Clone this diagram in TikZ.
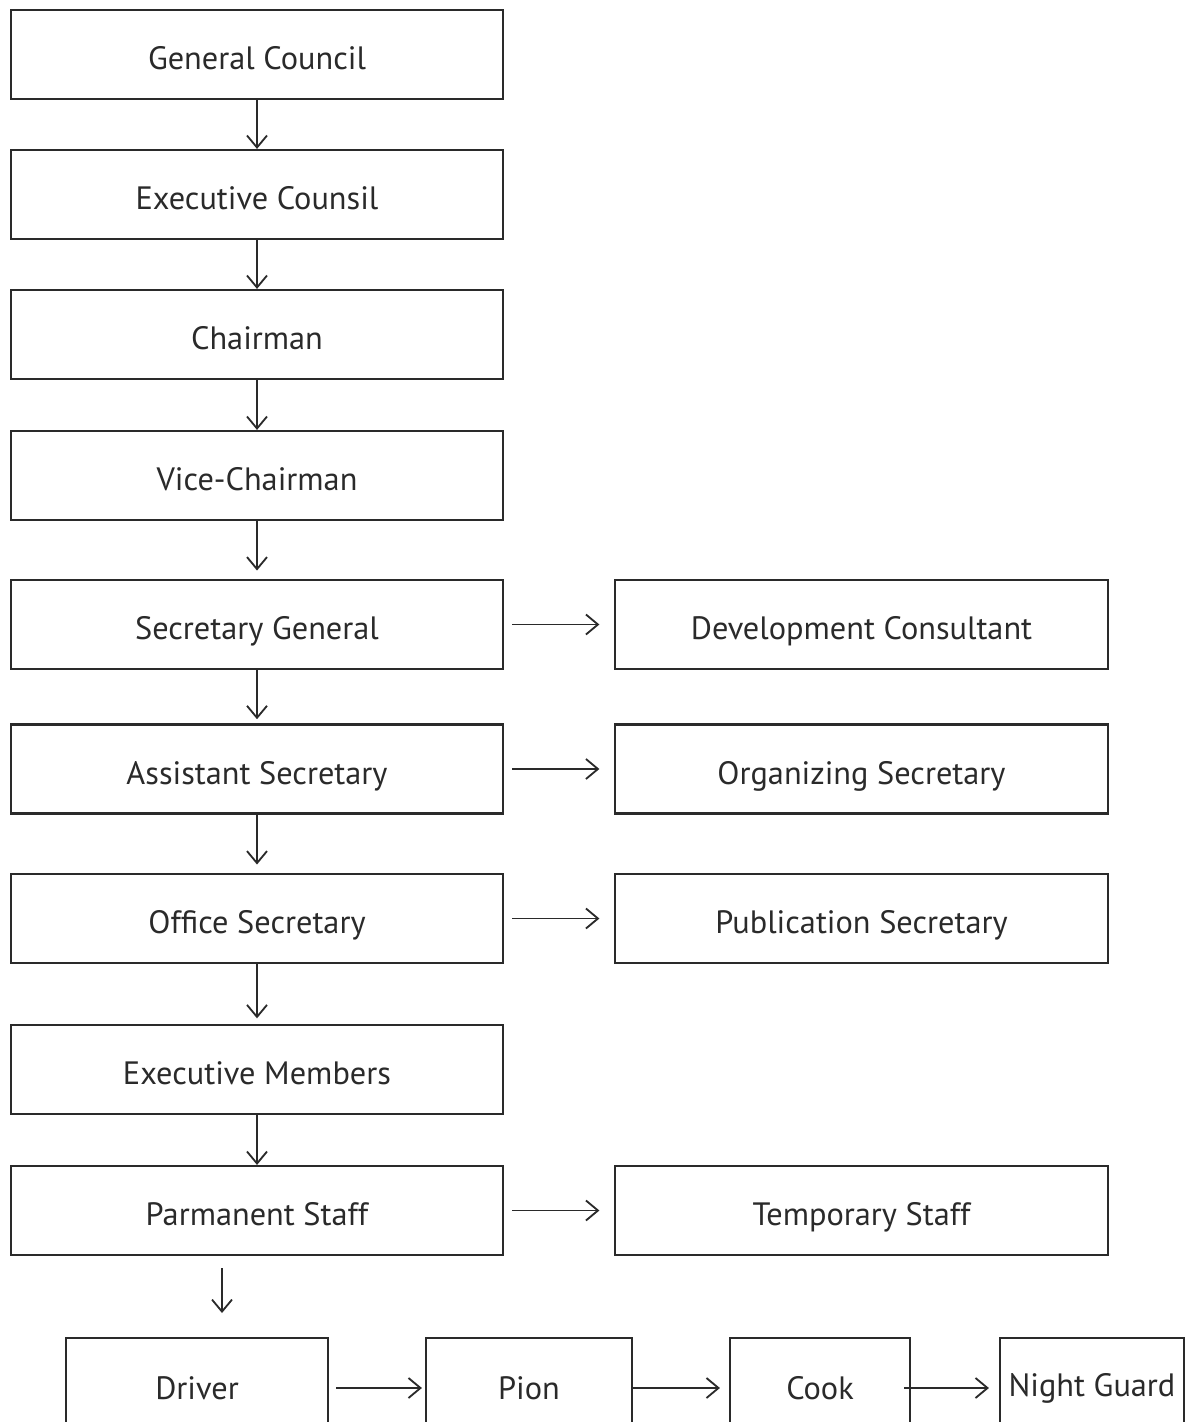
\documentclass[tikz,border=0pt]{standalone}
\usepackage{fontspec}
\setmainfont{PT Sans}
\usetikzlibrary{arrows.meta}
\definecolor{ink}{HTML}{2A2A2A}
\tikzset{post/.style={draw=ink, line width=1.5pt, text=ink, font=\fontsize{23}{27}\selectfont,
    minimum width=12.3cm, minimum height=2.225cm, inner sep=0pt,
    text height=0.75cm, text depth=0pt},
  staff/.style={post, minimum height=3cm},
  tag/.style={text=ink, font=\fontsize{23}{27}\selectfont},
  link/.style={ink, line width=1.3pt, -{Straight Barb[length=3mm, width=5mm]}}}

\begin{document}
\begin{tikzpicture}[x=0.025cm, y=-0.025cm]
  \useasboundingbox (0,0) rectangle (1186,1422);
  \clip (0,0) rectangle (1186,1422);
  % main column
  \node[post] (gc) at (257, 54.5) {General Council};
  \node[post] (ec) at (257,194.5) {Executive Counsil};
  \node[post] (ch) at (257,334.5) {Chairman};
  \node[post] (vc) at (257,475.5) {Vice-Chairman};
  \node[post] (sg) at (257,624.5) {Secretary General};
  \node[post] (as) at (257,769) {Assistant Secretary};
  \node[post] (os) at (257,918.5) {Office Secretary};
  \node[post] (em) at (257,1069.5) {Executive Members};
  \node[post] (ps) at (257,1210.5) {Parmanent Staff};
  % side column
  \node[post] (dc) at (861.5,624.5) {Development Consultant};
  \node[post] (og) at (861.5,769) {Organizing Secretary};
  \node[post] (pb) at (861.5,918.5) {Publication Secretary};
  \node[post] (ts) at (861.5,1210.5) {Temporary Staff};
  % bottom row
  \node[staff, minimum width=6.55cm] (dr) at (197,1398) {};
  \node[staff, minimum width=5.15cm] (pi) at (529,1398) {};
  \node[staff, minimum width=4.5cm]  (ck) at (820,1398) {};
  \node[staff, minimum width=4.6cm]  (ng) at (1092,1398) {};
  \node[tag] (drt) at (dr |- 0,1388) {Driver};
  \node[tag] (pit) at (pi |- 0,1388) {Pion};
  \node[tag] (ckt) at (ck |- 0,1388) {Cook};
  \node[tag] (ngt) at (ng |- 0,1388) {Night Guard};

  \draw[link] (gc) -- (ec);
  \draw[link] (ec) -- (ch);
  \draw[link] (ch) -- (vc);
  \draw[link, shorten >=6pt] (vc) -- (sg);
  \draw[link, shorten >=3pt] (sg) -- (as);
  \draw[link, shorten >=6pt] (as) -- (os);
  \draw[link, shorten >=4pt] (os) -- (em);
  \draw[link] (em) -- (ps);

  \draw[link] ([xshift=0.2cm]sg.east) -- ([xshift=-0.375cm]dc.west);
  \draw[link] ([xshift=0.2cm]as.east) -- ([xshift=-0.375cm]og.west);
  \draw[link] ([xshift=0.2cm]os.east) -- ([xshift=-0.375cm]pb.west);
  \draw[link] ([xshift=0.2cm]ps.east) -- ([xshift=-0.375cm]ts.west);

  \coordinate (down) at (222,1268);
  \draw[link] (down) -- (222,1313);

  \draw[link] ([xshift=0.175cm]dr.east |- drt) -- ([xshift=-0.075cm]pi.west |- pit);
  \draw[link] (pi.east |- pit) -- ([xshift=-0.225cm]ck.west |- ckt);
  \draw[link] ([xshift=-0.175cm]ck.east |- ckt) -- ([xshift=-0.25cm]ng.west |- ngt);
\end{tikzpicture}
\end{document}
